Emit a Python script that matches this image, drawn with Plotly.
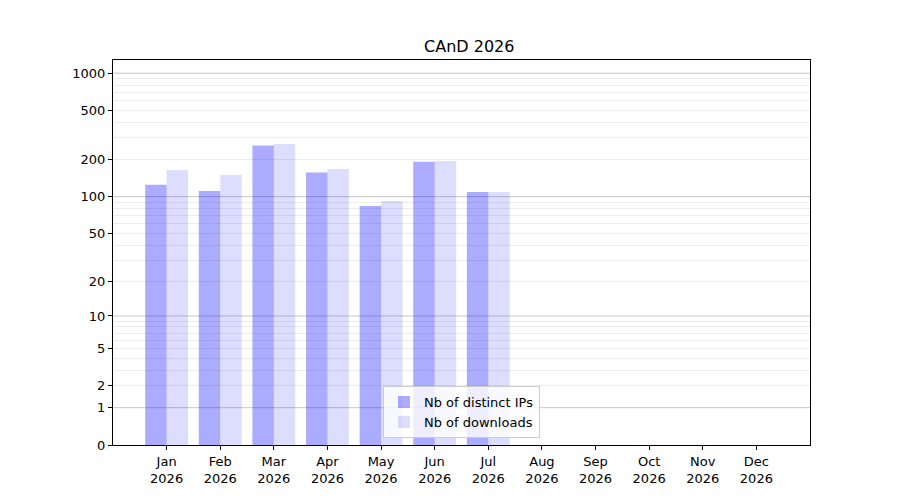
import numpy as np
import plotly.graph_objects as go

# Monthly stats (counts)
months = ["Jan", "Feb", "Mar", "Apr", "May", "Jun", "Jul", "Aug", "Sep", "Oct", "Nov", "Dec"]
year = "2026"
distinct_ips = [125, 111, 260, 157, 84, 192, 109, 0, 0, 0, 0, 0]
downloads = [165, 150, 268, 168, 92, 195, 109, 0, 0, 0, 0, 0]

# Tick labels of the log(1+x) axis
tick_labels = [0, 1, 2, 5, 10, 20, 50, 100, 200, 500, 1000]
major_grid = [1, 10, 100, 1000]
minor_grid = [m * d for d in (1, 10, 100) for m in range(2, 10)]


def scale(v):
    # y axis is log10(1 + x)
    return np.log10(1 + np.asarray(v, dtype=float))


x = list(range(len(months)))
fig = go.Figure()
fig.add_trace(go.Bar(
    x=x, y=scale(distinct_ips), name="Nb of distinct IPs",
    marker=dict(color="rgba(0,0,255,0.33)", line_width=0),
    customdata=distinct_ips, hovertemplate="%{customdata}<extra></extra>",
))
fig.add_trace(go.Bar(
    x=x, y=scale(downloads), name="Nb of downloads",
    marker=dict(color="rgba(0,0,255,0.135)", line_width=0),
    customdata=downloads, hovertemplate="%{customdata}<extra></extra>",
))

for g in major_grid:
    fig.add_hline(y=scale(g), line_color="rgba(0,0,0,0.22)", line_width=1, layer="below")

font = "DejaVu Sans, sans-serif"
fig.update_layout(
    width=900, height=500,
    margin=dict(l=105, r=98, t=52, b=63),
    paper_bgcolor="white", plot_bgcolor="white",
    barmode="group", bargap=0.2, bargroupgap=0,
    title=dict(text="CAnD 2026", x=0.5125, xanchor="center", y=0.924, yanchor="middle",
               font=dict(family=font, size=16, color="black")),
    font=dict(family=font, size=13, color="black"),
    showlegend=True,
    legend=dict(x=0.5, xanchor="center", y=0.018, yanchor="bottom",
                bgcolor="rgba(255,255,255,0.8)", bordercolor="#cccccc", borderwidth=1,
                font=dict(family=font, size=13), tracegroupgap=0),
    xaxis=dict(
        range=[-1, 12], tickmode="array", tickvals=x,
        ticktext=[f"{m}<br>{year}" for m in months],
        showgrid=False, zeroline=False,
        showline=True, linecolor="black", linewidth=1, mirror=True,
        ticks="outside", ticklen=4, tickcolor="black",
    ),
    yaxis=dict(
        range=[0, 3.107], tickmode="array", tickvals=scale(tick_labels),
        ticktext=[str(t) for t in tick_labels],
        showgrid=False, zeroline=False,
        showline=True, linecolor="black", linewidth=1, mirror=True,
        ticks="outside", ticklen=4, tickcolor="black",
        minor=dict(tickmode="array", tickvals=scale(minor_grid), showgrid=True,
                   gridcolor="rgba(0,0,0,0.07)", gridwidth=1, ticks=""),
    ),
)

fig.write_html("out.html")
